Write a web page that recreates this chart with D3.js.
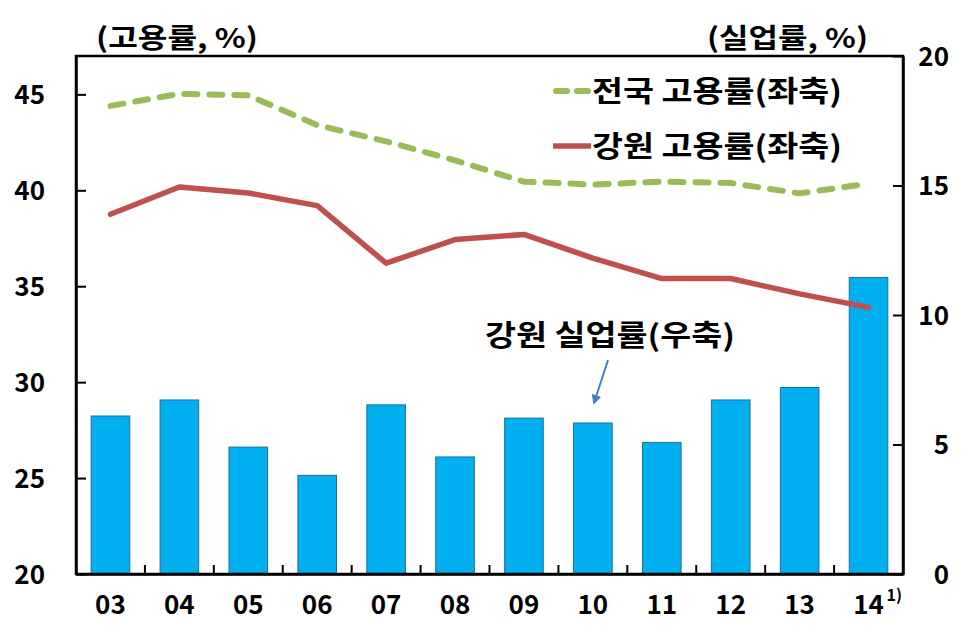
<!DOCTYPE html>
<html><head><meta charset="utf-8">
<script src="https://cdn.jsdelivr.net/npm/d3@7"></script>
<style>
html,body{margin:0;padding:0;background:#fff;}
text{font-family:"Noto Sans CJK KR","Noto Sans",sans-serif;font-weight:700;fill:#000;}
</style></head>
<body>
<svg id="c" width="976" height="638"></svg>
<script>
const categories = ["03","04","05","06","07","08","09","10","11","12","13","14"];
const unemploymentGangwon = [6.1,6.72,4.9,3.81,6.53,4.52,6.02,5.83,5.08,6.72,7.2,11.45];
const employmentNational = [44.4,45.03,44.95,43.4,42.55,41.56,40.45,40.3,40.45,40.38,39.84,40.35];
const employmentGangwon = [38.75,40.17,39.86,39.2,36.2,37.43,37.7,36.46,35.4,35.4,34.6,33.9];
const leftTicks = [20,25,30,35,40,45];
const rightTicks = [0,5,10,15,20];

const svg = d3.select("#c");
const L = 76, R = 903, T = 56, B = 574;

const x = d3.scaleBand().domain(categories).range([L, R]).paddingInner(0.44).paddingOuter(0.22);
const step = x.step();
const yL = d3.scaleLinear().domain([20, 47]).range([B, T]);
const yR = d3.scaleLinear().domain([0, 20]).range([B, T]);

// bars
svg.append("g").selectAll("rect").data(unemploymentGangwon).join("rect")
  .attr("x", (d,i) => x(categories[i]))
  .attr("y", d => yR(d))
  .attr("width", x.bandwidth())
  .attr("height", d => B - yR(d))
  .attr("fill", "#00B0F0")
  .attr("stroke", "#1E6E9C")
  .attr("stroke-width", 1);

const cx = c => x(c) + x.bandwidth()/2;

// lines
const lineL = d3.line().x((d,i) => cx(categories[i])).y(d => yL(d));
svg.append("path").datum(employmentGangwon)
  .attr("d", lineL).attr("fill","none")
  .attr("stroke","#C0504D").attr("stroke-width",5.5).attr("stroke-linejoin","round").attr("stroke-linecap","round");
svg.append("path").datum(employmentNational)
  .attr("d", lineL).attr("fill","none")
  .attr("stroke","#9BBB59").attr("stroke-width",6).attr("stroke-linecap","round").attr("stroke-linejoin","round")
  .attr("stroke-dasharray","13,12");

// frame
svg.append("rect").attr("x",L).attr("y",T).attr("width",R-L).attr("height",B-T)
  .attr("fill","none").attr("stroke","#000").attr("stroke-width",2.5);

// left axis
const gl = svg.append("g").attr("transform",`translate(${L},0)`)
  .call(d3.axisLeft(yL).tickValues(leftTicks).tickSizeInner(-10).tickSizeOuter(0).tickPadding(31).tickFormat(d3.format("d")));
gl.select(".domain").attr("stroke","#000").attr("stroke-width",2.5);
gl.selectAll(".tick line").attr("stroke","#000").attr("stroke-width",2);
gl.selectAll(".tick text").style("font-size","26px").attr("dy","0.36em");

// right axis
const gr = svg.append("g").attr("transform",`translate(${R},0)`)
  .call(d3.axisRight(yR).tickValues(rightTicks).tickSizeInner(-10).tickSizeOuter(0).tickPadding(46).tickFormat(d3.format("d")));
gr.select(".domain").attr("stroke","#000").attr("stroke-width",2.5);
gr.selectAll(".tick line").attr("stroke","#000").attr("stroke-width",2);
gr.selectAll(".tick text").style("font-size","26px").attr("text-anchor","end").attr("dy","0.36em");

// bottom axis
const gb = svg.append("g").attr("transform",`translate(0,${B})`)
  .call(d3.axisBottom(x).tickSize(0).tickPadding(22));
gb.select(".domain").attr("stroke","#000").attr("stroke-width",2.5);
gb.selectAll(".tick text").style("font-size","26px").attr("dy","0.71em");
// category boundary ticks
svg.append("g").selectAll("line").data(categories.slice(1)).join("line")
  .attr("x1", d => x(d) - (step - x.bandwidth())/2)
  .attr("x2", d => x(d) - (step - x.bandwidth())/2)
  .attr("y1", B).attr("y2", B-9)
  .attr("stroke","#000").attr("stroke-width",2);

// footnote marker
svg.append("text").attr("x", cx("14")+18).attr("y", 601).style("font-size","16px").text("1)");

// axis titles
svg.append("text").attr("x", 96).attr("y", 48).style("font-size","27px")
  .attr("textLength",162).attr("lengthAdjust","spacingAndGlyphs").text("(고용률, %)");
svg.append("text").attr("x", 707).attr("y", 48).style("font-size","27px")
  .attr("textLength",161).attr("lengthAdjust","spacingAndGlyphs").text("(실업률, %)");

// legend
const lg = svg.append("g");
lg.append("line").attr("x1",556).attr("x2",590).attr("y1",91).attr("y2",91)
  .attr("stroke","#9BBB59").attr("stroke-width",6).attr("stroke-linecap","round").attr("stroke-dasharray","11,10");
lg.append("text").attr("x",592).attr("y",102).style("font-size","29px")
  .attr("textLength",250).attr("lengthAdjust","spacingAndGlyphs").text("전국 고용률(좌축)");
lg.append("line").attr("x1",553).attr("x2",591).attr("y1",146).attr("y2",146)
  .attr("stroke","#C0504D").attr("stroke-width",5.5);
lg.append("text").attr("x",592).attr("y",157).style("font-size","29px")
  .attr("textLength",250).attr("lengthAdjust","spacingAndGlyphs").text("강원 고용률(좌축)");

// annotation
svg.append("text").attr("x",485).attr("y",346).style("font-size","29px")
  .attr("textLength",250).attr("lengthAdjust","spacingAndGlyphs").text("강원 실업률(우축)");
svg.append("defs").append("marker").attr("id","ah").attr("viewBox","0 0 10 10")
  .attr("refX",5).attr("refY",5).attr("markerWidth",5).attr("markerHeight",5).attr("orient","auto")
  .append("path").attr("d","M0,0 L10,5 L0,10 z").attr("fill","#4A7EBB");
svg.append("line").attr("x1",608).attr("y1",360).attr("x2",595).attr("y2",400)
  .attr("stroke","#4A7EBB").attr("stroke-width",2).attr("marker-end","url(#ah)");
</script>
</body></html>
